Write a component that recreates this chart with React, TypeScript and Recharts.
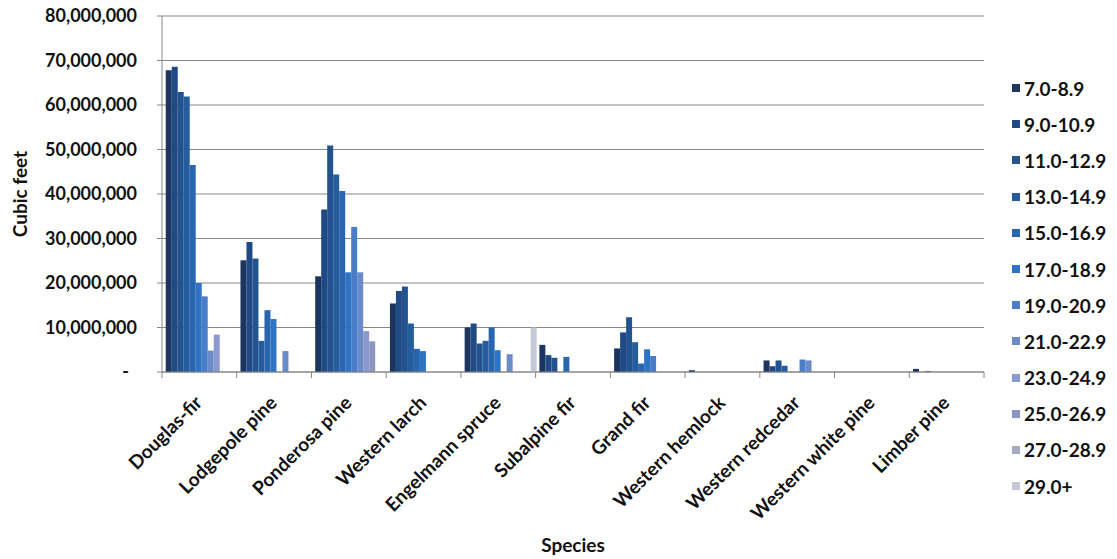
import React from 'react'
import { BarChart, Bar, XAxis, YAxis, CartesianGrid, Legend, Label } from 'recharts'

// diameter classes (inches), one bar series each
const SIZE_CLASSES = [
  '7.0-8.9', '9.0-10.9', '11.0-12.9', '13.0-14.9', '15.0-16.9', '17.0-18.9',
  '19.0-20.9', '21.0-22.9', '23.0-24.9', '25.0-26.9', '27.0-28.9', '29.0+',
]

const SPECIES = [
  'Douglas-fir', 'Lodgepole pine', 'Ponderosa pine', 'Western larch', 'Engelmann spruce',
  'Subalpine fir', 'Grand fir', 'Western hemlock', 'Western redcedar', 'Western white pine', 'Limber pine',
]

// cubic feet per size class, in SIZE_CLASSES order
const douglasFir = [67800000, 68600000, 62900000, 61900000, 46500000, 20000000, 17000000, 4800000, 8400000, 0, 0, 0]
const lodgepolePine = [25100000, 29200000, 25500000, 7000000, 13900000, 11900000, 0, 4700000, 0, 0, 0, 0]
const ponderosaPine = [21500000, 36500000, 50900000, 44400000, 40700000, 22400000, 32600000, 22400000, 9200000, 6900000, 0, 0]
const westernLarch = [15400000, 18200000, 19200000, 10900000, 5200000, 4700000, 0, 0, 0, 0, 0, 0]
const engelmannSpruce = [10000000, 10900000, 6400000, 7000000, 10000000, 4900000, 0, 4000000, 0, 0, 0, 10000000]
const subalpineFir = [6100000, 3800000, 3200000, 0, 3400000, 0, 0, 0, 0, 0, 0, 0]
const grandFir = [5300000, 8900000, 12300000, 6700000, 1900000, 5100000, 3600000, 0, 0, 0, 0, 0]
const westernHemlock = [400000, 0, 0, 0, 0, 0, 0, 0, 0, 0, 0, 0]
const westernRedcedar = [2600000, 1300000, 2600000, 1400000, 0, 0, 2800000, 2600000, 0, 0, 0, 0]
const westernWhitePine = [0, 0, 0, 0, 0, 0, 0, 0, 0, 0, 0, 0]
const limberPine = [700000, 0, 200000, 0, 0, 0, 0, 0, 0, 0, 0, 0]

const VALUES = [
  douglasFir, lodgepolePine, ponderosaPine, westernLarch, engelmannSpruce,
  subalpineFir, grandFir, westernHemlock, westernRedcedar, westernWhitePine, limberPine,
]

const Y_TICKS = [0, 10000000, 20000000, 30000000, 40000000, 50000000, 60000000, 70000000, 80000000]

const COLORS = [
  '#1c355e', '#204a86', '#22538f', '#255d9c', '#2966b0', '#2f73c4',
  '#4a7dc8', '#6a8bc8', '#8a9ad0', '#8b96bf', '#a4adbc', '#c4c9d6',
]

const W = 1117
const H = 559
const MARGIN = { top: 16, right: 133, bottom: 7, left: 0 }
const Y_WIDTH = 162
const BAND_HALF = (W - MARGIN.right - Y_WIDTH) / SPECIES.length / 2
const AXIS_GREY = '#868686'

const data = SPECIES.map((name, i) => {
  const row: Record<string, string | number> = { name }
  SIZE_CLASSES.forEach((s, j) => { row[s] = VALUES[i][j] })
  return row
})

const SpeciesTick = (props: any) => {
  const { x, y, payload, index, visibleTicksCount } = props
  const half = payload.offset || BAND_HALF
  const last = index === visibleTicksCount - 1
  return (
    <g>
      <line x1={x - half} x2={x - half} y1={y} y2={y + 6} stroke={AXIS_GREY} />
      {last && <line x1={x + half} x2={x + half} y1={y} y2={y + 6} stroke={AXIS_GREY} />}
      <text
        x={x + 4}
        y={y + 32}
        textAnchor="end"
        fontSize={19}
        fill="#111"
        transform={`rotate(-45 ${x + 4} ${y + 32})`}
      >
        {payload.value}
      </text>
    </g>
  )
}

const VolumeTick = (props: any) => {
  const { x, y, payload } = props
  const zero = payload.value === 0
  return (
    <text x={x} y={y} dx={zero ? -8 : 0} dy="0.35em" textAnchor="end" fontSize={18} fill="#111">
      {zero ? '-' : payload.value.toLocaleString('en-US')}
    </text>
  )
}

const renderLegend = () => (
  <div>
    {SIZE_CLASSES.map((s, i) => (
      <div key={s} style={{ height: 36.2, display: 'flex', alignItems: 'center', fontSize: 19, color: '#111' }}>
        <span style={{ width: 8, height: 8, background: COLORS[i], marginRight: 4, display: 'inline-block' }} />
        <span>{s}</span>
      </div>
    ))}
  </div>
)

export default function App() {
  return (
    <div style={{ position: 'absolute', left: 0, top: 0, background: '#fff', fontFamily: 'Lato, sans-serif', fontWeight: 'bold' }}>
      <BarChart width={W} height={H} data={data} margin={MARGIN} barCategoryGap="5%" barGap={0}>
        <CartesianGrid vertical={false} stroke={AXIS_GREY} />
        <XAxis
          dataKey="name"
          interval={0}
          height={180}
          tickSize={0}
          tickMargin={0}
          tickLine={false}
          axisLine={{ stroke: AXIS_GREY }}
          tick={<SpeciesTick />}
        >
          <Label value="Species" position="insideBottom" offset={0} style={{ fontSize: 19, fill: '#111' }} />
        </XAxis>
        <YAxis
          width={Y_WIDTH}
          domain={[0, 80000000]}
          ticks={Y_TICKS}
          interval={0}
          tickSize={5}
          tickMargin={20}
          axisLine={{ stroke: AXIS_GREY }}
          tickLine={{ stroke: AXIS_GREY }}
          tick={<VolumeTick />}
        >
          <Label
            value="Cubic feet"
            angle={-90}
            position="insideLeft"
            offset={20}
            style={{ fontSize: 19, fill: '#111', textAnchor: 'middle' }}
          />
        </YAxis>
        <Legend
          layout="vertical"
          align="center"
          verticalAlign="middle"
          content={renderLegend}
          wrapperStyle={{ left: 1012, top: 70, width: 105 }}
        />
        {SIZE_CLASSES.map((s, i) => (
          <Bar key={s} dataKey={s} fill={COLORS[i]} isAnimationActive={false} />
        ))}
      </BarChart>
    </div>
  )
}
